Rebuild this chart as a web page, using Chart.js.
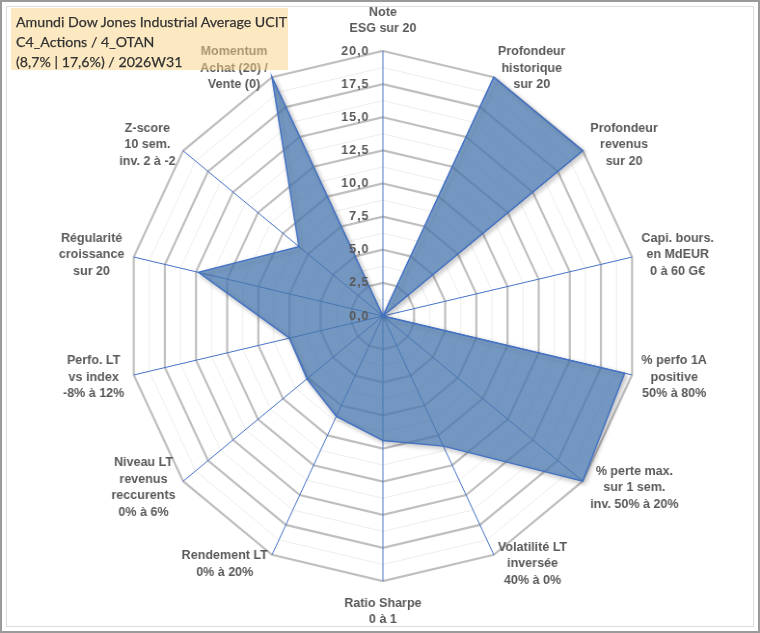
<!DOCTYPE html>
<html>
<head>
<meta charset="utf-8">
<script src="https://cdn.jsdelivr.net/npm/chart.js@4.4.1/dist/chart.umd.min.js"></script>
<style>
  html, body { margin: 0; padding: 0; background: #fff; }
  #frame { position: absolute; left: 0; top: 0; width: 760px; height: 633px; box-sizing: border-box; border: 2px solid #9a9a9a; }
  #inner { position: absolute; left: 4px; top: 4px; right: 4px; bottom: 4px; border: 1px solid #dcdcdc; }
  #radar { position: absolute; left: 0; top: 0; width: 760px; height: 633px; }
  #title {
    position: absolute; left: 11px; top: 8px; width: 277px; height: 62px;
    background: rgba(250, 212, 134, 0.5);
    font-family: Lato, sans-serif; font-size: 14.2px; line-height: 20px;
    color: #333; padding: 4px 0 0 5px; box-sizing: border-box; white-space: nowrap;
    -webkit-text-stroke: 0.25px #333;
  }
</style>
</head>
<body>
<div id="frame"><div id="inner"></div></div>
<canvas id="radar" width="788" height="633" style="width:760px;height:633px"></canvas>
<div id="title">Amundi Dow Jones Industrial Average UCIT<br>C4_Actions / 4_OTAN<br>(8,7% | 17,6%) / 2026W31</div>
<script>
// axes (clockwise from the top)
const axisLabels = [
  ["Note", "ESG sur 20"],
  ["Profondeur", "historique", "sur 20"],
  ["Profondeur", "revenus", "sur 20"],
  ["Capi. bours.", "en MdEUR", "0 à 60 G€"],
  ["% perfo 1A", "positive", "50% à 80%"],
  ["% perte max.", "sur 1 sem.", "inv. 50% à 20%"],
  ["Volatilité LT", "inversée", "40% à 0%"],
  ["Ratio Sharpe", "0 à 1"],
  ["Rendement LT", "0% à 20%"],
  ["Niveau LT", "revenus", "reccurents", "0% à 6%"],
  ["Perfo. LT", "vs index", "-8% à 12%"],
  ["Régularité", "croissance", "sur 20"],
  ["Z-score", "10 sem.", "inv. 2 à -2"],
  ["Momentum", "Achat (20) /", "Vente (0)"]
];
const scores = [0, 20, 20, 0, 19.4, 20, 10.9, 9.4, 8.4, 7.6, 7.5, 14.8, 8.4, 20];
const tickValues = [0, 2.5, 5, 7.5, 10, 12.5, 15, 17.5, 20];

const labelColor = '#595959';

// labels of the axes and of the scale, drawn like Excel does
const excelLabels = {
  id: 'excelLabels',
  afterDraw(chart) {
    const scale = chart.scales.r;
    const ctx = chart.ctx;
    const lh = 16.5;
    ctx.save();
    ctx.fillStyle = labelColor;
    ctx.textBaseline = 'middle';

    // scale values
    ctx.font = 'bold 13px "Liberation Sans", Arial, sans-serif';
    ctx.letterSpacing = '1px';
    ctx.textAlign = 'right';
    tickValues.forEach(v => {
      const y = scale.yCenter - scale.getDistanceFromCenterForValue(v);
      ctx.fillText(v.toFixed(1).replace('.', ','), scale.xCenter - 14, y);
    });
    ctx.letterSpacing = '0px';

    // axis names
    ctx.font = 'bold 13px "Liberation Sans", Arial, sans-serif';
    ctx.textAlign = 'center';
    const n = chart.data.labels.length;
    chart.data.labels.forEach((lines, i) => {
      const p = scale.getPointPosition(i, scale.drawingArea + 10);
      const widths = lines.map(t => ctx.measureText(t).width);
      const w = Math.max(...widths);
      let cx, y0;
      if (i === 0) {
        cx = p.x;
        y0 = p.y - 4 - (lines.length - 0.5) * lh;
      } else if (i * 2 === n) {
        cx = p.x;
        y0 = p.y + 4 + lh / 2;
      } else {
        cx = i < n / 2 ? p.x + w / 2 : p.x - w / 2;
        y0 = p.y - (lines.length - 1) * lh / 2;
      }
      lines.forEach((t, k) => ctx.fillText(t, cx, y0 + k * lh));
    });
    ctx.restore();
  }
};

// soft shadow under the filled area
const areaShadow = {
  id: 'areaShadow',
  beforeDatasetsDraw(chart) {
    const ctx = chart.ctx;
    ctx.save();
    ctx.shadowColor = 'rgba(0,0,0,0.3)';
    ctx.shadowBlur = 5;
    ctx.shadowOffsetX = 2;
    ctx.shadowOffsetY = 2;
  },
  afterDatasetsDraw(chart) {
    chart.ctx.restore();
  }
};

new Chart(document.getElementById('radar').getContext('2d'), {
  type: 'radar',
  data: {
    labels: axisLabels,
    datasets: [{
      data: scores,
      backgroundColor: 'rgba(79, 129, 189, 0.7)',
      borderColor: '#4472C4',
      borderWidth: 1.5,
      pointRadius: 0,
      pointHoverRadius: 0,
      fill: true
    }]
  },
  options: {
    responsive: false,
    animation: false,
    layout: { padding: { top: 51, bottom: 52, left: 9, right: 3 } },
    plugins: {
      legend: { display: false },
      tooltip: { enabled: false }
    },
    scales: {
      r: {
        min: 0,
        max: 20,
        ticks: { stepSize: 1.25, display: false },
        pointLabels: { display: false },
        angleLines: { color: '#4472C4', lineWidth: 1 },
        grid: {
          color: ctx => (ctx.tick && ctx.tick.value % 2.5 === 0) ? '#BFBFBF' : '#EDEDED',
          lineWidth: ctx => (ctx.tick && ctx.tick.value % 2.5 === 0) ? 2.2 : 1
        }
      }
    }
  },
  plugins: [areaShadow, excelLabels]
});
</script>
</body>
</html>
